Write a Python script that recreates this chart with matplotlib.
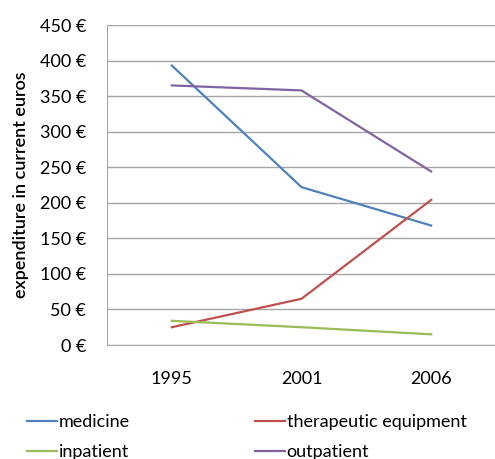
import matplotlib.pyplot as plt
import numpy as np

plt.rcParams['font.family'] = ['Lato', 'DejaVu Sans']

years = ['1995', '2001', '2006']
medicine = [393, 222, 168]
therapeutic = [25, 65, 204]
inpatient = [34, 25, 15]
outpatient = [365, 358, 244]

series = [
    ('medicine', medicine, '#4F81BD'),
    ('therapeutic equipment', therapeutic, '#C0504D'),
    ('inpatient', inpatient, '#9BBB59'),
    ('outpatient', outpatient, '#8064A2'),
]

fig = plt.figure(figsize=(4.95, 4.59), dpi=100)
ax = fig.add_axes([107 / 495, (459 - 345) / 459, 389 / 495, 320 / 459])

x = np.arange(len(years))
lines = {}
for name, vals, col in series:
    lines[name], = ax.plot(x, vals, color=col, lw=1.6, label=name)

ax.set_xlim(-0.5, 2.5)
ax.set_ylim(0, 450)
ax.set_yticks(np.arange(0, 451, 50))
ax.set_yticklabels([f'{v} €' for v in range(0, 451, 50)], fontsize=13)
ax.set_xticks(x)
ax.set_xticklabels(years, fontsize=13)
ax.tick_params(length=0)
ax.tick_params(axis='x', pad=19)
ax.tick_params(axis='y', pad=15)
ax.yaxis.grid(True, color='#a6a6a6', lw=1)
ax.set_axisbelow(True)
for s in ['top', 'right']:
    ax.spines[s].set_visible(False)
for s in ['left', 'bottom']:
    ax.spines[s].set_color('#a6a6a6')

ax.set_ylabel('expenditure in current euros', fontsize=13, fontweight='semibold', labelpad=8)

# legend laid out row by row: two columns placed separately
leg_kw = dict(loc='upper left', frameon=False, fontsize=13, handlelength=1.65,
              handletextpad=0.1, labelspacing=0.78, borderpad=0, borderaxespad=0)
fig.legend([lines['medicine'], lines['inpatient']], ['medicine', 'inpatient'],
           bbox_to_anchor=(27 / 495, 1 - 414 / 459), **leg_kw)
fig.legend([lines['therapeutic equipment'], lines['outpatient']],
           ['therapeutic equipment', 'outpatient'],
           bbox_to_anchor=(255 / 495, 1 - 414 / 459), **leg_kw)

fig.savefig('out.png', dpi=100)
